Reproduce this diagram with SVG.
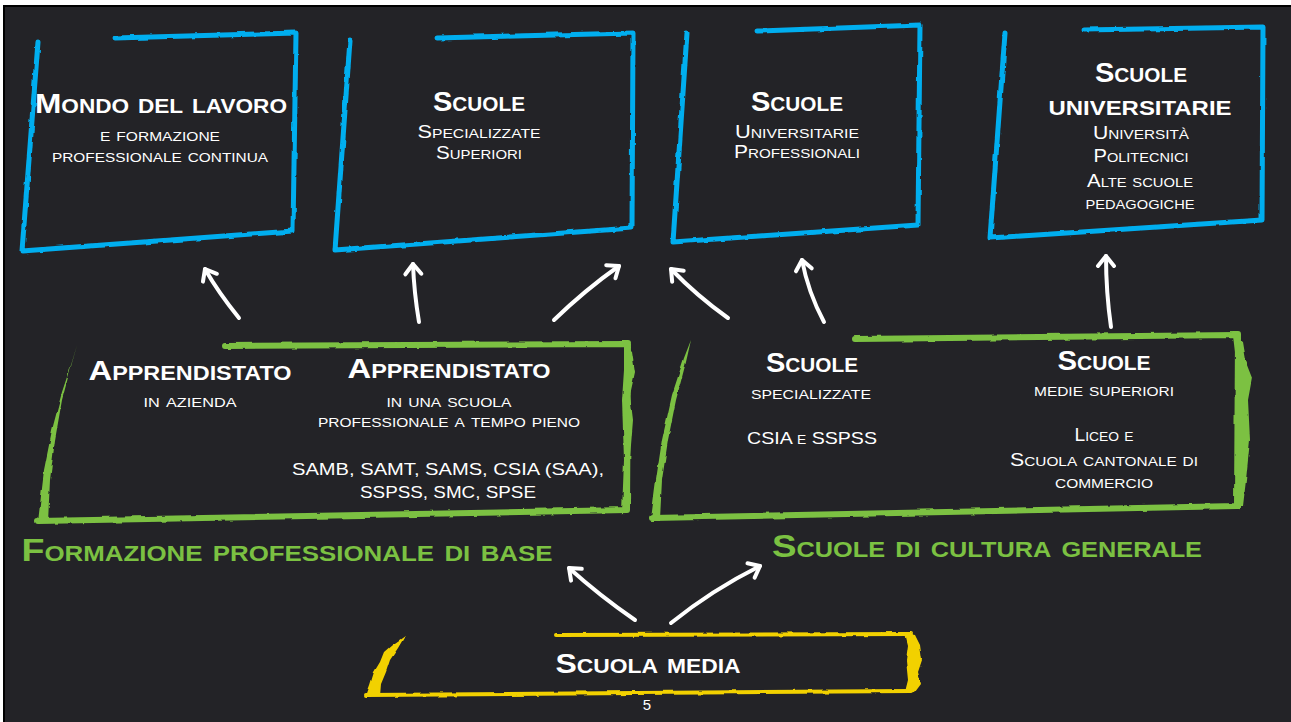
<svg xmlns="http://www.w3.org/2000/svg" width="1291" height="722" viewBox="0 0 1291 722">
<defs>
<style>
.t{font-family:"Liberation Sans",Arial,sans-serif;font-weight:bold;font-variant:small-caps;fill:#fff;text-anchor:middle}
.h{font-size:28px}
.s{font-weight:normal;font-size:18px}
.c{font-weight:normal;font-variant:normal;font-size:17px}
.g{fill:#7bc142;font-size:32px}
.blue{fill:none;stroke:#00aeef;stroke-width:5;stroke-linecap:round;stroke-linejoin:round}
.green{fill:none;stroke:#7bc142;stroke-width:6;stroke-linecap:round;stroke-linejoin:round}
.gfill{fill:#7bc142}
.yel{fill:none;stroke:#f2d100;stroke-width:4;stroke-linecap:round;stroke-linejoin:round}
.yfill{fill:#f2d100}
.arr{fill:none;stroke:#fff;stroke-width:4;stroke-linecap:round;marker-end:url(#head)}
</style>
<marker id="head" markerUnits="userSpaceOnUse" markerWidth="30" markerHeight="30" viewBox="-15 -15 30 30" refX="0" refY="0" orient="auto">
<path d="M-10,-8 L0,0 L-10,8" fill="none" stroke="#fff" stroke-width="4" stroke-linecap="round" stroke-linejoin="round"/>
</marker>
<filter id="rough" x="-5%" y="-5%" width="110%" height="110%">
<feTurbulence type="fractalNoise" baseFrequency="0.08" numOctaves="2" seed="3"/>
<feDisplacementMap in="SourceGraphic" scale="3" xChannelSelector="R" yChannelSelector="G"/>
</filter>
</defs>
<rect x="0" y="0" width="1291" height="722" fill="#ffffff"/>
<rect x="4" y="6" width="1288" height="717" fill="#232327" stroke="#000" stroke-width="2"/>

<g id="mondo-lavoro">
<path class="blue" filter="url(#rough)" d="M38,42 L22,251 L293,231 L296,33 L115,38"/>
<text class="t h" x="161" y="113" textLength="252" lengthAdjust="spacingAndGlyphs">Mondo del lavoro</text>
<text class="t s" x="160" y="141" textLength="120" lengthAdjust="spacingAndGlyphs">e formazione</text>
<text class="t s" x="160" y="162" textLength="216" lengthAdjust="spacingAndGlyphs">professionale continua</text>
</g>

<g id="scuole-specializzate-superiori">
<path class="blue" filter="url(#rough)" d="M350,40 L335,250 L632,228 L633,33 L437,38"/>
<text class="t h" x="479" y="111" textLength="92" lengthAdjust="spacingAndGlyphs">Scuole</text>
<text class="t s" x="479" y="138" textLength="123" lengthAdjust="spacingAndGlyphs">Specializzate</text>
<text class="t s" x="479" y="159" textLength="86" lengthAdjust="spacingAndGlyphs">Superiori</text>
</g>

<g id="scuole-universitarie-professionali">
<path class="blue" filter="url(#rough)" d="M687,33 L673,242 L918,225 L920,25 L757,31"/>
<text class="t h" x="797" y="111" textLength="92" lengthAdjust="spacingAndGlyphs">Scuole</text>
<text class="t s" x="797" y="138" textLength="124" lengthAdjust="spacingAndGlyphs">Universitarie</text>
<text class="t s" x="797" y="158" textLength="126" lengthAdjust="spacingAndGlyphs">Professionali</text>
</g>

<g id="scuole-universitarie">
<path class="blue" filter="url(#rough)" d="M1005,33 L990,238 L1262,220 L1263,27 L1083,30"/>
<text class="t h" x="1141" y="82" textLength="92" lengthAdjust="spacingAndGlyphs">Scuole</text>
<text class="t h" x="1140" y="115" textLength="183" lengthAdjust="spacingAndGlyphs">universitarie</text>
<text class="t s" x="1141" y="139" textLength="96" lengthAdjust="spacingAndGlyphs">Università</text>
<text class="t s" x="1141" y="162" textLength="95" lengthAdjust="spacingAndGlyphs">Politecnici</text>
<text class="t s" x="1140" y="187" textLength="106" lengthAdjust="spacingAndGlyphs">Alte scuole</text>
<text class="t s" x="1140" y="209" textLength="109" lengthAdjust="spacingAndGlyphs">pedagogiche</text>
</g>

<g id="formazione-professionale">
<g filter="url(#rough)">
<path class="green" d="M38,521 L627,510 L628,344 L225,346"/>
<polygon class="gfill" points="77,345 72,362 62,392 52,430 44,470 38,522 48,522 50,480 55,440 62,400 70,370"/>
<polygon class="gfill" points="624,345 632,352 635,372 630,395 633,420 629,470 628,512 622,512 624,460 622,400 624,370"/>
</g>
<text class="t h" x="190" y="380" textLength="203" lengthAdjust="spacingAndGlyphs">Apprendistato</text>
<text class="t s" x="190" y="407" textLength="93" lengthAdjust="spacingAndGlyphs">in azienda</text>
<text class="t h" x="449" y="378" textLength="203" lengthAdjust="spacingAndGlyphs">Apprendistato</text>
<text class="t s" x="449" y="407" textLength="125" lengthAdjust="spacingAndGlyphs">in una scuola</text>
<text class="t s" x="449" y="427" textLength="262" lengthAdjust="spacingAndGlyphs">professionale a tempo pieno</text>
<text class="t c" x="448" y="475" textLength="312" lengthAdjust="spacingAndGlyphs">SAMB, SAMT, SAMS, CSIA (SAA),</text>
<text class="t c" x="448" y="498" textLength="176" lengthAdjust="spacingAndGlyphs">SSPSS, SMC, SPSE</text>
</g>

<g id="scuole-cultura-generale">
<g filter="url(#rough)">
<path class="green" d="M652,518 L1237,506 L1238,335 L855,339"/>
<polygon class="gfill" points="691,340 684,358 672,395 662,440 656,480 651,519 660,519 662,480 668,440 676,400 686,362"/>
<polygon class="gfill" points="1233,336 1242,342 1245,360 1252,378 1248,400 1250,440 1246,480 1243,506 1235,506 1237,460 1235,400 1236,360"/>
</g>
<text class="t h" x="812" y="372" textLength="92" lengthAdjust="spacingAndGlyphs">Scuole</text>
<text class="t s" x="811" y="399" textLength="120" lengthAdjust="spacingAndGlyphs">specializzate</text>
<text class="t c" x="812" y="444" textLength="130" lengthAdjust="spacingAndGlyphs">CSIA <tspan style="font-variant:small-caps">e</tspan> SSPSS</text>
<text class="t h" x="1104" y="370" textLength="93" lengthAdjust="spacingAndGlyphs">Scuole</text>
<text class="t s" x="1104" y="396" textLength="140" lengthAdjust="spacingAndGlyphs">medie superiori</text>
<text class="t s" x="1104" y="441" textLength="59" lengthAdjust="spacingAndGlyphs">Liceo e</text>
<text class="t s" x="1104" y="466" textLength="188" lengthAdjust="spacingAndGlyphs">Scuola cantonale di</text>
<text class="t s" x="1104" y="488" textLength="98" lengthAdjust="spacingAndGlyphs">commercio</text>
</g>

<g id="label-formazione">
<text class="t g" x="287" y="561" textLength="531" lengthAdjust="spacingAndGlyphs">Formazione professionale di base</text>
</g>
<g id="label-cultura">
<text class="t g" x="987" y="557" textLength="430" lengthAdjust="spacingAndGlyphs">Scuole di cultura generale</text>
</g>

<g id="scuola-media">
<g filter="url(#rough)">
<path class="yel" d="M556,635 L911,634 M366,695 L911,691"/>
<polygon class="yfill" points="405,636 392,645 384,652 380,662 374,672 370,685 366,696 380,696 381,684 386,672 390,660 398,648"/>
<polygon class="yfill" points="905,633 915,635 920,645 922,660 918,672 921,684 915,692 905,692 908,680 906,660 908,645"/>
</g>
<text class="t h" x="648" y="673" textLength="185" lengthAdjust="spacingAndGlyphs">Scuola media</text>
</g>

<g id="page-number">
<text class="t" x="647" y="710" style="font-weight:normal;font-size:15px">5</text>
</g>

<g id="connectors">
<path class="arr" d="M239,318 Q218,292 205,269"/>
<path class="arr" d="M419,322 Q414,292 413,264"/>
<path class="arr" d="M554,320 Q585,290 619,266"/>
<path class="arr" d="M728,318 Q697,296 671,269"/>
<path class="arr" d="M824,322 Q808,292 802,260"/>
<path class="arr" d="M1111,327 Q1106,292 1106,256"/>
<path class="arr" d="M635,620 Q600,596 569,568"/>
<path class="arr" d="M671,623 Q712,590 760,566"/>
</g>
</svg>
